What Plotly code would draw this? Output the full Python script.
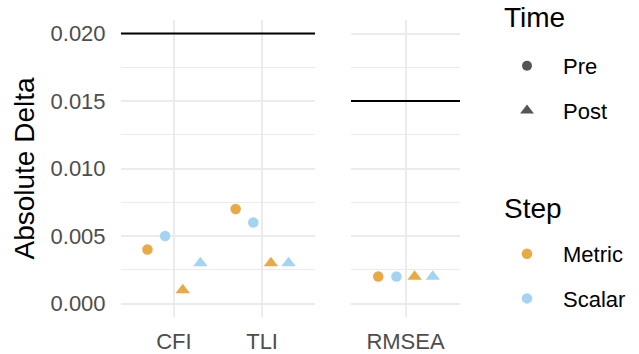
import plotly.graph_objects as go

# ---- data ----
indices_left = ["CFI", "TLI"]
indices_right = ["RMSEA"]
metric_pre_left = [0.004, 0.007]
scalar_pre_left = [0.005, 0.006]
metric_post_left = [0.001, 0.003]
scalar_post_left = [0.003, 0.003]
metric_pre_right = [0.002]
scalar_pre_right = [0.002]
metric_post_right = [0.002]
scalar_post_right = [0.002]
cutoff_left = 0.020
cutoff_right = 0.015
y_ticks = [0.000, 0.005, 0.010, 0.015, 0.020]
y_ticklabels = ["0.000", "0.005", "0.010", "0.015", "0.020"]

COL_METRIC = "#E9A944"
COL_SCALAR = "#A4D4F3"
LEG_GREY = "#555555"
FONT = "Liberation Sans, Arial, sans-serif"
W, H = 639, 354

series = [
    ("Metric", "Pre", metric_pre_left, metric_pre_right),
    ("Scalar", "Pre", scalar_pre_left, scalar_pre_right),
    ("Metric", "Post", metric_post_left, metric_post_right),
    ("Scalar", "Post", scalar_post_left, scalar_post_right),
]

fig = go.Figure()
for step, time, yl, yr in series:
    color = COL_METRIC if step == "Metric" else COL_SCALAR
    symbol = "circle" if time == "Pre" else "triangle-up"
    size = 10.5 if time == "Pre" else 12.5
    for xs, ys, xa, ya in [(indices_left, yl, "x", "y"), (indices_right, yr, "x2", "y2")]:
        fig.add_trace(go.Scatter(
            x=xs, y=ys, mode="markers", xaxis=xa, yaxis=ya,
            offsetgroup=f"{time}-{step}",
            marker=dict(color=color, symbol=symbol, size=size, line=dict(width=0)),
            showlegend=False, hoverinfo="skip",
        ))

# legend dummies on hidden axes
for name, sym, col, leg, sz in [
    ("Pre", "circle", LEG_GREY, "legend", 10),
    ("Post", "triangle-up", LEG_GREY, "legend", 12),
    ("Metric", "circle", COL_METRIC, "legend2", 10.5),
    ("Scalar", "circle", COL_SCALAR, "legend2", 10.5),
]:
    fig.add_trace(go.Scatter(
        x=[None], y=[None], mode="markers", name=name, xaxis="x3", yaxis="y3",
        marker=dict(color=col, symbol=sym, size=sz, line=dict(width=0)),
        legend=leg, legendgroup=name, showlegend=True,
    ))

fig.add_shape(type="line", xref="x domain", yref="y", x0=0, x1=1,
              y0=cutoff_left, y1=cutoff_left, line=dict(color="black", width=2))
fig.add_shape(type="line", xref="x2 domain", yref="y2", x0=0, x1=1,
              y0=cutoff_right, y1=cutoff_right, line=dict(color="black", width=2))

# legend titles
for txt, ycen in [("Time", 18), ("Step", 208)]:
    fig.add_annotation(text=txt, xref="paper", yref="paper", x=502 / W, y=1 - ycen / H,
                       xanchor="left", yanchor="middle", showarrow=False,
                       font=dict(size=28, family=FONT, color="black"))

ydom = [1 - 317 / H, 1 - 20 / H]
yrange = [-0.001, 0.021]
grid = "#EBEBEB"
common_x = dict(type="category", showgrid=True, gridcolor=grid, gridwidth=2,
                zeroline=False, showline=False, ticks="outside", ticklen=5,
                tickcolor="rgba(0,0,0,0)", automargin=False,
                tickfont=dict(size=22, color="#4D4D4D", family=FONT))
common_y = dict(range=yrange, tickvals=y_ticks, ticktext=y_ticklabels,
                showgrid=True, gridcolor=grid, gridwidth=2, zeroline=False,
                showline=False, automargin=False,
                minor=dict(tickvals=[0.0025, 0.0075, 0.0125, 0.0175],
                           showgrid=True, gridcolor=grid, gridwidth=1))

leg_common = dict(font=dict(size=22, family=FONT, color="black"),
                  xanchor="left", yanchor="top", tracegroupgap=13,
                  itemsizing="trace", itemwidth=62,
                  bgcolor="rgba(0,0,0,0)", borderwidth=0)

fig.update_layout(
    width=W, height=H,
    margin=dict(l=0, r=0, t=0, b=0, autoexpand=False),
    paper_bgcolor="white", plot_bgcolor="white",
    font=dict(family=FONT, color="black"),
    scattermode="group", scattergap=0.2,
    xaxis=dict(domain=[121 / W, 315 / W], range=[-0.6, 1.6], anchor="y",
               categoryorder="array", categoryarray=indices_left, **common_x),
    xaxis2=dict(domain=[351 / W, 460 / W], range=[-0.6, 0.6], anchor="y2",
                categoryorder="array", categoryarray=indices_right, **common_x),
    yaxis=dict(domain=ydom, anchor="x", ticks="outside", ticklen=10,
               tickcolor="rgba(0,0,0,0)",
               tickfont=dict(size=22, color="#4D4D4D", family=FONT),
               title=dict(text="Absolute Delta", font=dict(size=28, color="black", family=FONT),
                          standoff=7),
               **common_y),
    yaxis2=dict(domain=ydom, anchor="x2", showticklabels=False, matches="y", **common_y),
    xaxis3=dict(visible=False, domain=[0.99, 1.0], anchor="y3"),
    yaxis3=dict(visible=False, domain=[0.99, 1.0], anchor="x3"),
    legend=dict(x=491 / W, y=1 - 45 / H, **leg_common),
    legend2=dict(x=491 / W, y=1 - 233 / H, **leg_common),
)

fig.write_html("out.html", config={"displayModeBar": False},
               post_script="document.body.style.margin='0px';")
